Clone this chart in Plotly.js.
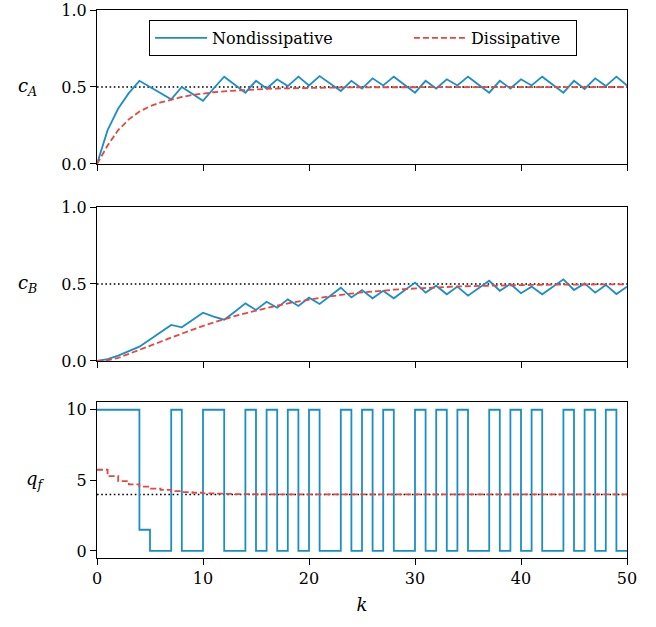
<!DOCTYPE html>
<html>
<head>
<meta charset="utf-8">
<script src="https://cdn.plot.ly/plotly-3.0.1.min.js"></script>
<style>html,body{margin:0;padding:0;background:#fff;}#chart{width:656px;height:627px;}</style>
</head>
<body>
<div id="chart"></div>
<script>
// ---- data ----
var k = [0,1,2,3,4,5,6,7,8,9,10,11,12,13,14,15,16,17,18,19,20,21,22,23,24,25,26,27,28,29,30,31,32,33,34,35,36,37,38,39,40,41,42,43,44,45,46,47,48,49,50];

var cA_nondiss = [0,0.22,0.36,0.46,0.54,0.50,0.46,0.42,0.50,0.455,0.41,0.49,0.567,0.515,0.463,0.54,0.49,0.55,0.506,0.567,0.51,0.571,0.52,0.474,0.54,0.49,0.556,0.51,0.567,0.515,0.463,0.54,0.49,0.55,0.51,0.567,0.515,0.463,0.54,0.49,0.55,0.51,0.567,0.515,0.463,0.54,0.487,0.556,0.506,0.567,0.51];
var cA_diss = [0,0.12,0.22,0.29,0.34,0.375,0.40,0.42,0.435,0.448,0.458,0.466,0.472,0.477,0.481,0.485,0.488,0.490,0.492,0.494,0.495,0.496,0.497,0.497,0.498,0.498,0.498,0.499,0.499,0.499,0.499,0.5,0.5,0.5,0.5,0.5,0.5,0.5,0.5,0.5,0.5,0.5,0.5,0.5,0.5,0.5,0.5,0.5,0.5,0.5,0.5];

var cB_nondiss = [0,0.012,0.035,0.062,0.093,0.14,0.19,0.234,0.219,0.265,0.314,0.288,0.268,0.32,0.374,0.331,0.385,0.346,0.40,0.357,0.411,0.37,0.42,0.476,0.413,0.46,0.407,0.456,0.407,0.458,0.509,0.444,0.489,0.433,0.483,0.424,0.472,0.521,0.456,0.50,0.44,0.483,0.433,0.48,0.53,0.461,0.504,0.444,0.494,0.435,0.483];
var cB_diss = [0,0.005,0.02,0.045,0.07,0.097,0.125,0.152,0.178,0.204,0.228,0.25,0.272,0.292,0.31,0.328,0.345,0.36,0.374,0.387,0.399,0.41,0.42,0.43,0.438,0.445,0.452,0.458,0.463,0.467,0.471,0.475,0.478,0.481,0.484,0.486,0.488,0.49,0.491,0.492,0.493,0.494,0.495,0.495,0.496,0.496,0.497,0.497,0.498,0.498,0.498];

var qf_nondiss = [10,10,10,10,1.5,0,0,10,0,0,10,10,0,0,10,0,10,0,10,0,10,0,0,10,0,10,0,10,0,0,10,0,10,0,10,0,0,10,0,10,0,10,0,0,10,0,10,0,10,0,0];
var qf_diss = [5.75,5.3,4.95,4.72,4.55,4.42,4.32,4.23,4.17,4.12,4.08,4.06,4.04,4.03,4.02,4.015,4.01,4.01,4.01,4.005,4.005,4.005,4,4,4,4,4,4,4,4,4,4,4,4,4,4,4,4,4,4,4,4,4,4,4,4,4,4,4,4,4];

var cA_set = 0.5, cB_set = 0.5, qf_set = 4;
var kRange = [0, 50];
var xTicks = [0,10,20,30,40,50];
var cTicks = [0, 0.5, 1.0];
var qTicks = [0, 5, 10];
var seriesNames = ['Nondissipative', 'Dissipative'];

// ---- style ----
var BLUE = '#1a8fc6', RED = '#e8463e';
var FONT = 'DejaVu Serif, serif';
var lineN = {color: BLUE, width: 1.8};
var lineD = {color: RED, width: 1.8, dash: '6px,3px'};
var lineRef = {color: 'black', width: 1.6, dash: '1.6px,2.6px'};
var PAD1 = '\u00a0'.repeat(14);
var PAD2 = '\u00a0'.repeat(2);

function ref(val, xa, ya) {
  return {x: kRange, y: [val, val], xaxis: xa, yaxis: ya, mode: 'lines', line: lineRef, showlegend: false, hoverinfo: 'skip'};
}

var traces = [
  ref(cA_set, 'x3', 'y3'),
  {x: k, y: cA_nondiss, xaxis: 'x3', yaxis: 'y3', mode: 'lines', line: lineN, name: seriesNames[0] + PAD1},
  {x: k, y: cA_diss, xaxis: 'x3', yaxis: 'y3', mode: 'lines', line: lineD, name: seriesNames[1] + PAD2},
  ref(cB_set, 'x2', 'y2'),
  {x: k, y: cB_nondiss, xaxis: 'x2', yaxis: 'y2', mode: 'lines', line: lineN, showlegend: false},
  {x: k, y: cB_diss, xaxis: 'x2', yaxis: 'y2', mode: 'lines', line: lineD, showlegend: false},
  ref(qf_set, 'x', 'y'),
  {x: k, y: qf_nondiss, xaxis: 'x', yaxis: 'y', mode: 'lines', line: Object.assign({shape: 'hv'}, lineN), showlegend: false},
  {x: k, y: qf_diss, xaxis: 'x', yaxis: 'y', mode: 'lines', line: Object.assign({shape: 'hv'}, lineD), showlegend: false}
];

function xAx(anchor, labels) {
  var a = {
    anchor: anchor, range: kRange, tickvals: xTicks, showticklabels: labels,
    ticks: 'outside', ticklen: 6, tickwidth: 1, tickcolor: 'black',
    showline: true, linecolor: 'black', linewidth: 1, mirror: true,
    showgrid: false, zeroline: false,
    tickfont: {family: FONT, size: 16, color: 'black'}
  };
  if (anchor !== 'y') a.matches = 'x';
  return a;
}
function yAx(domain, range, tickvals, fmt) {
  return {
    domain: domain, range: range, tickvals: tickvals, tickformat: fmt,
    ticks: 'outside', ticklen: 6, tickwidth: 1, tickcolor: 'black',
    showline: true, linecolor: 'black', linewidth: 1, mirror: true,
    showgrid: false, zeroline: false,
    tickfont: {family: FONT, size: 16, color: 'black'}
  };
}

var xa1 = xAx('y', true);
xa1.title = {text: '<i>k</i>', font: {family: FONT, size: 18, color: 'black'}, standoff: 11};

var labFont = {family: FONT, size: 18, color: 'black'};
var layout = {
  width: 656, height: 627,
  margin: {l: 97, r: 29, t: 10, b: 69},
  paper_bgcolor: 'white', plot_bgcolor: 'white',
  font: {family: FONT, size: 16, color: 'black'},
  xaxis: xa1,
  xaxis2: xAx('y2', false),
  xaxis3: xAx('y3', false),
  yaxis: yAx([0, 0.2847], [-0.5, 10.55], qTicks, 'd'),
  yaxis2: yAx([0.3595, 0.6405], [0, 1], cTicks, '.1f'),
  yaxis3: yAx([0.719, 1], [0, 1], cTicks, '.1f'),
  showlegend: true,
  legend: {
    orientation: 'h', x: 0.502, xanchor: 'center', y: 0.949, yanchor: 'middle',
    bgcolor: 'white', bordercolor: 'black', borderwidth: 1,
    font: {family: FONT, size: 16, color: 'black'},
    itemwidth: 52
  },
  annotations: [
    {text: '<i>c</i><sub><i>A</i></sub>', xref: 'paper', yref: 'y3', x: 0, y: 0.5, xanchor: 'right', yanchor: 'middle', xshift: -58, showarrow: false, font: labFont},
    {text: '<i>c</i><sub><i>B</i></sub>', xref: 'paper', yref: 'y2', x: 0, y: 0.5, xanchor: 'right', yanchor: 'middle', xshift: -58, showarrow: false, font: labFont},
    {text: '<i>q</i><sub><i>f</i></sub>', xref: 'paper', yref: 'y', x: 0, y: 5, xanchor: 'right', yanchor: 'middle', xshift: -50, showarrow: false, font: labFont}
  ]
};

Plotly.newPlot('chart', traces, layout, {displayModeBar: false, staticPlot: true});
</script>
</body>
</html>
